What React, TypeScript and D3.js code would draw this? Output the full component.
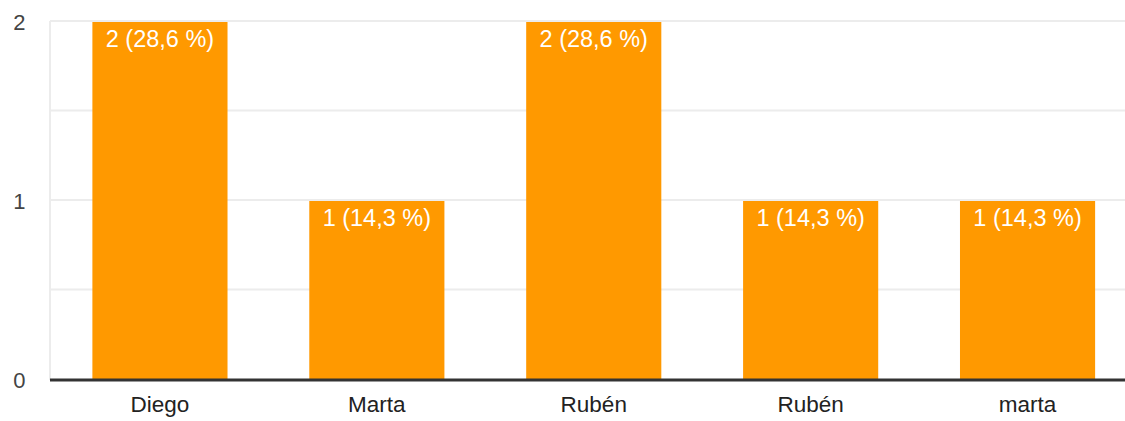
import React from "react";
import * as d3 from "d3";

const categories: string[] = ["Diego", "Marta", "Rubén", "Rubén ", "marta"];
const values: number[] = [2, 1, 2, 1, 1];
const yTicks: number[] = [0, 1, 2];
const yGrid: number[] = [0.5, 1, 1.5, 2];

const W = 1125;
const H = 421;

export default function App() {
  const total = d3.sum(values);
  const x = d3
    .scaleBand<string>()
    .domain(categories)
    .range([51.5, 1136])
    .paddingInner(0.377)
    .paddingOuter(0.1885);
  const y = d3.scaleLinear().domain([0, 2]).range([380, 22]);
  const fmt = (v: number) =>
    `${v} (${((v / total) * 100).toFixed(1).replace(".", ",")} %)`;
  const font = "Arial, 'Liberation Sans', sans-serif";

  return (
    <svg
      width={W}
      height={H}
      style={{ position: "absolute", left: 0, top: 0, background: "#fff" }}
      fontFamily={font}
    >
      <line x1={50} x2={50} y1={y(2) - 1} y2={y(0)} stroke="#ececec" strokeWidth={2} />
      {yGrid.map((t) => (
        <line
          key={t}
          x1={50}
          x2={W}
          y1={y(t) - 1}
          y2={y(t) - 1}
          stroke="#ececec"
          strokeWidth={2}
        />
      ))}
      {values.map((v, i) => (
        <g key={i}>
          <rect
            x={x(categories[i])!}
            y={y(v)}
            width={x.bandwidth()}
            height={y(0) - y(v)}
            fill="#ff9900"
          />
          <text
            x={x(categories[i])! + x.bandwidth() / 2}
            y={y(v) + 24.5}
            textAnchor="middle"
            fill="#ffffff"
            fontSize={23.5}
          >
            {fmt(v)}
          </text>
          <text
            x={x(categories[i])! + x.bandwidth() / 2}
            y={412}
            textAnchor="middle"
            fill="#222"
            fontSize={22.5}
          >
            {categories[i].trim()}
          </text>
        </g>
      ))}
      <line x1={50} x2={W} y1={y(0)} y2={y(0)} stroke="#333" strokeWidth={3} />
      {yTicks.map((t) => (
        <text
          key={t}
          x={25.5}
          y={y(t)}
          dy="0.35em"
          textAnchor="end"
          fill="#444"
          fontSize={22}
        >
          {t}
        </text>
      ))}
    </svg>
  );
}
